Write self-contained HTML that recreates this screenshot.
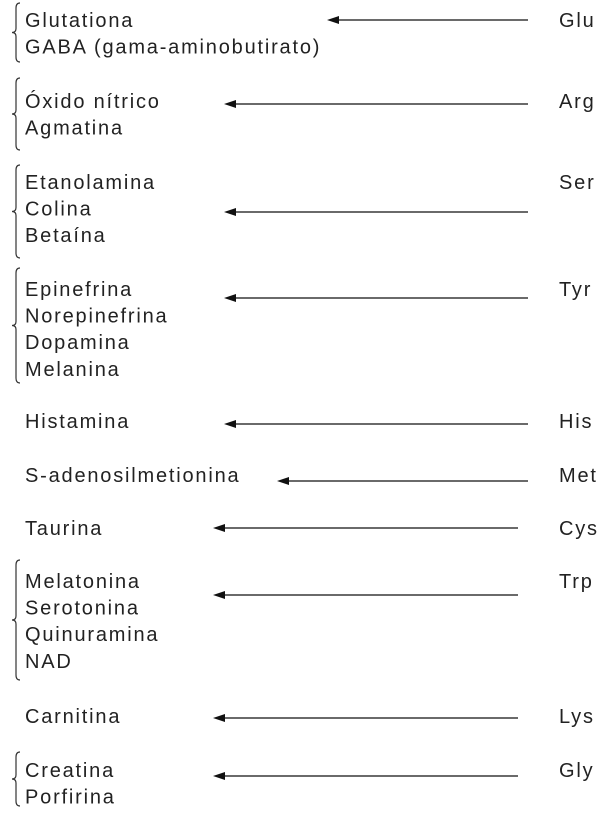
<!DOCTYPE html>
<html><head><meta charset="utf-8"><style>
html,body{margin:0;padding:0;background:#fff;}
svg{display:block;}
text{font-family:"Liberation Sans",Arial,sans-serif;font-size:20px;letter-spacing:1.8px;fill:#222;}
</style></head><body>
<svg width="613" height="816" viewBox="0 0 613 816">
</svg>
<script>
const groups = [
  {aa:"Glu", items:["Glutationa","GABA (gama-aminobutirato)"], y0:20, ay:20, ax0:327, ax1:528, brace:[3,62]},
  {aa:"Arg", items:["Óxido nítrico","Agmatina"], y0:101, ay:104, ax0:224, ax1:528, brace:[78,150]},
  {aa:"Ser", items:["Etanolamina","Colina","Betaína"], y0:182, ay:212, ax0:224, ax1:528, brace:[165,258]},
  {aa:"Tyr", items:["Epinefrina","Norepinefrina","Dopamina","Melanina"], y0:289, ay:298, ax0:224, ax1:528, brace:[268,383]},
  {aa:"His", items:["Histamina"], y0:421, ay:424, ax0:224, ax1:528, brace:null},
  {aa:"Met", items:["S-adenosilmetionina"], y0:475, ay:481, ax0:277, ax1:528, brace:null},
  {aa:"Cys", items:["Taurina"], y0:528, ay:528, ax0:213, ax1:518, brace:null},
  {aa:"Trp", items:["Melatonina","Serotonina","Quinuramina","NAD"], y0:581, ay:595, ax0:213, ax1:518, brace:[560,680]},
  {aa:"Lys", items:["Carnitina"], y0:716, ay:718, ax0:213, ax1:518, brace:null},
  {aa:"Gly", items:["Creatina","Porfirina"], y0:770, ay:776, ax0:213, ax1:518, brace:[752,806]}
];
const svg = document.querySelector('svg');
const NS = "http://www.w3.org/2000/svg";
function mk(tag, attrs){const e=document.createElementNS(NS,tag);for(const k in attrs)e.setAttribute(k,attrs[k]);svg.appendChild(e);return e;}
groups.forEach(g=>{
  g.items.forEach((t,i)=>{
    const el = mk('text',{x:25,y:g.y0+i*26.6+7});
    el.textContent=t;
    
    
  });
  const a = mk('text',{x:559,y:g.y0+7});
  a.textContent=g.aa;
  
  
  const ln = mk('line',{x1:g.ax0+10,y1:g.ay,x2:g.ax1,y2:g.ay,stroke:'#111','stroke-width':1.3});
  
  
  const hd = mk('polygon',{points:`${g.ax0},${g.ay} ${g.ax0+12},${g.ay-4} ${g.ax0+12},${g.ay+4}`,fill:'#111'});
  
  
  if(g.brace){
    const [t,b]=g.brace, m=(t+b)/2;
    const d=`M20,${t} Q16,${t} 16,${t+5} L16,${m-4} Q16,${m} 12,${m} Q16,${m} 16,${m+4} L16,${b-5} Q16,${b} 20,${b}`;
    const br = mk('path',{d:d,fill:'none',stroke:'#333','stroke-width':1.2});
    
    
  }
});
</script>
</body></html>
